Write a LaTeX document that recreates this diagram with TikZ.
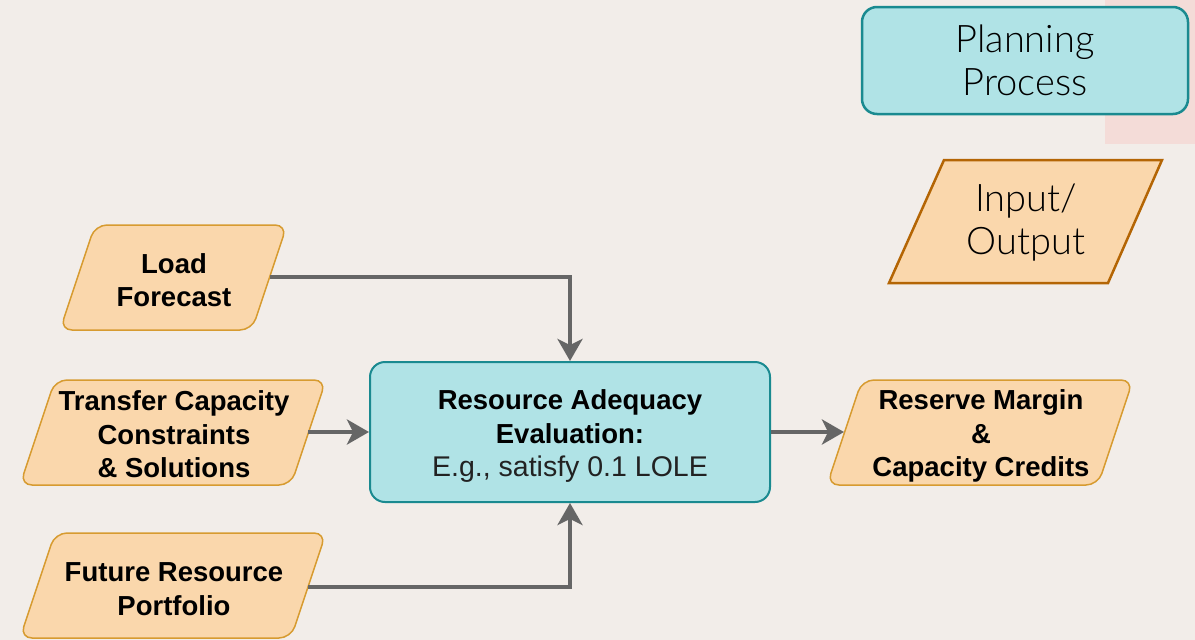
\documentclass[tikz,border=0pt]{standalone}
\usepackage{fontspec}
\setmainfont{Liberation Sans}
\IfFontExistsTF{Lato Light}{\newfontfamily\lightfont{Lato Light}}{\IfFontExistsTF{Fira Sans Light}{\newfontfamily\lightfont{Fira Sans Light}}{\newfontfamily\lightfont{Liberation Sans}}}
\usetikzlibrary{arrows.meta,calc}
\definecolor{bgcol}{HTML}{F2EDE9}
\definecolor{pinkbg}{HTML}{F4DCD8}
\definecolor{tealfill}{HTML}{B0E3E6}
\definecolor{tealline}{HTML}{1A8A90}
\definecolor{orfill}{HTML}{FAD7AC}
\definecolor{orline}{HTML}{D79B30}
\definecolor{ordark}{HTML}{B46504}
\definecolor{arrowgray}{HTML}{666666}
\definecolor{txtgray}{HTML}{222222}
\tikzset{
  procbox/.style={draw=tealline, fill=tealfill, rounded corners=15pt, line width=2pt, align=center, inner sep=0pt},
  iobox/.style={draw=orline, fill=orfill, rounded corners=12pt, line width=1.5pt},
  iokey/.style={draw=ordark, fill=orfill, line width=2.5pt},
  boldtext/.style={align=center, font=\fontsize{27.5}{33.5}\selectfont\bfseries, text=black, inner sep=0pt},
  lighttext/.style={align=center, font=\lightfont\fontsize{38}{43}\selectfont, text=black, inner sep=0pt},
  conn/.style={draw=arrowgray, line width=4pt, -{Stealth[length=22pt,width=25pt,inset=6pt]}}
}
\begin{document}
\begin{tikzpicture}[x=1pt,y=-1pt]
\fill[bgcol] (0,0) rectangle (1195,640);
\useasboundingbox (0,0) rectangle (1195,640);
\fill[pinkbg] (1105,0) rectangle (1195,144);

% legend
\node[procbox, line width=2.5pt, minimum width=326pt, minimum height=107pt, lighttext] (plan) at (1025,60.5) {Planning\\Process};
\draw[iokey] (944,160) -- (1162,160) -- (1108,283) -- (889,283) -- cycle;
\node[lighttext] (iolabel) at (1026,223) {Input/\\Output};

% input/output shapes
\draw[iobox] (95,225) -- (287,225) -- (252,330) -- (60,330) -- cycle;
\node[boldtext] (load) at (174,280) {Load\\Forecast};
\coordinate (load-e) at (270,277);

\draw[iobox] (55,380) -- (326,380) -- (291,485) -- (20,485) -- cycle;
\node[boldtext] (trans) at (174,434.5) {Transfer Capacity\\Constraints\\\& Solutions};
\coordinate (trans-e) at (308,432);

\draw[iobox] (55,533) -- (326,533) -- (291,638) -- (20,638) -- cycle;
\node[boldtext] (fut) at (174,589) {Future Resource\\Portfolio};
\coordinate (fut-e) at (308,587);

\draw[iobox] (862,380) -- (1133,380) -- (1098,485) -- (827,485) -- cycle;
\node[boldtext] (res) at (981,436) {Reserve Margin\\\&\\Capacity Credits};
\coordinate (res-w) at (844,432);

% central process
\node[procbox, minimum width=400pt, minimum height=140pt] (ra) at (570,432) {};
\node[boldtext] (ratext) at (570,436)
  {Resource Adequacy\\Evaluation:\\{\mdseries\fontsize{28.5}{33.5}\selectfont\color{txtgray}E.g., satisfy 0.1 LOLE}};

% connectors
\draw[conn] (load-e) -| (ra.north);
\draw[conn] (fut-e) -| (ra.south);
\draw[conn] (trans-e) -- (ra.west);
\draw[conn] (ra.east) -- (res-w);
\end{tikzpicture}
\end{document}
